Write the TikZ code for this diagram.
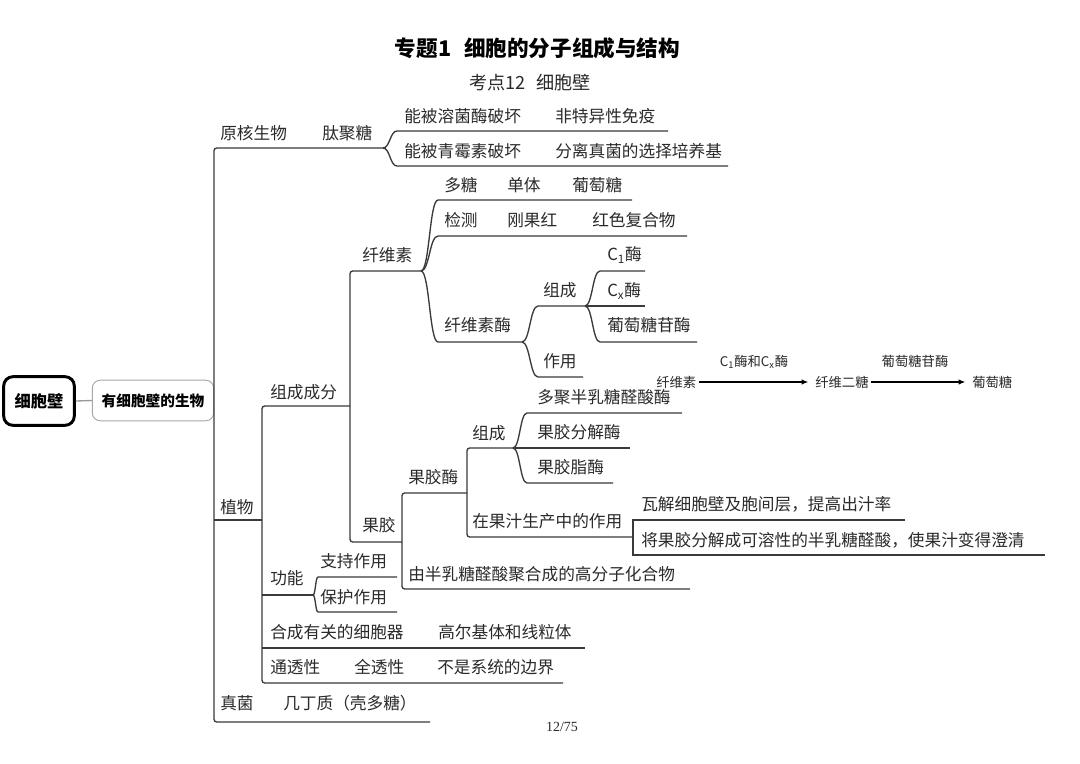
\documentclass[tikz,border=0pt]{standalone}
\usepackage{fontspec}
\setmainfont{Noto Sans CJK SC}
\newfontfamily\serifnum{Liberation Serif}
\usetikzlibrary{arrows.meta,calc}
\definecolor{lncol}{HTML}{3A3A3A}
\definecolor{txcol}{HTML}{2A2A2A}
\tikzset{
 ln/.style={draw=lncol, line width=1pt},
 tx/.style={anchor=west, inner sep=0pt, font=\fontsize{12.5}{14}\selectfont, text=txcol},
 eq/.style={anchor=west, inner sep=0pt, font=\fontsize{10}{12}\selectfont, text=txcol},
 eqlab/.style={inner sep=0pt, font=\fontsize{10}{12}\selectfont, text=txcol},
 ar/.style={draw=black, line width=0.8pt, -{Latex[length=5pt,width=4pt]}, shorten <=1.5pt, shorten >=5pt},
}
\newcommand\brc[3]{\path ($(#1)!.5!(#2)$) coordinate (mtmp);
  \draw[ln] (#1) .. controls (mtmp |- #1) and (mtmp |- #2) .. (#2) -- (#3);}
\begin{document}
\begin{tikzpicture}[x=0.75pt,y=-0.75pt]
\path[use as bounding box, fill=white] (0,0) rectangle (1080,763);

% titles
\node[inner sep=0pt, font=\fontsize{16.2}{19}\selectfont\bfseries] (title) at (537.5,48) {专题1\hspace{0.6em}细胞的分子组成与结构};
\node[inner sep=0pt, font=\fontsize{13.6}{16}\selectfont, text=txcol] (sub) at (530,83) {考点12\hspace{0.6em}细胞壁};
\node[inner sep=0pt, font=\serifnum\fontsize{10.5}{12}\selectfont, text=txcol] (pg) at (562,727) {12/75};

% root boxes
\node[draw=black, line width=2.2pt, rounded corners=7pt, minimum width=53pt, minimum height=36.5pt, inner sep=0pt, font=\fontsize{12.2}{14}\selectfont\bfseries] (root) at (39,401) {细胞壁};
\node[draw=gray!70, line width=0.7pt, rounded corners=6pt, minimum width=91pt, minimum height=30.5pt, inner sep=0pt, font=\fontsize{11}{13}\selectfont\bfseries] (org) at (153,400.5) {有细胞壁的生物};
\draw[draw=gray!80, line width=1pt] (root.east) -- (org.west);

% ---------- coordinates ----------
\coordinate (pk) at (383,148);
\coordinate (tk) at (214,148);
\coordinate (tb) at (214,722);
\coordinate (fe) at (430,722);
\coordinate (ly1s) at (397,131); \coordinate (ly1e) at (668,131);
\coordinate (ly2s) at (397,166); \coordinate (ly2e) at (728,166);
\coordinate (zw) at (214,520); \coordinate (zwb) at (262,520);
\coordinate (cc) at (350,406); \coordinate (st) at (262,406);
\coordinate (sb) at (262,683); \coordinate (tte) at (563,683);
\coordinate (gn) at (313,595); \coordinate (hc) at (585,648);
\coordinate (xw) at (421,271); \coordinate (xwt) at (350,271);
\coordinate (gjb) at (350,542); \coordinate (gj) at (402,542);
\coordinate (dt) at (438,200); \coordinate (dte) at (632,200);
\coordinate (jc) at (438,236); \coordinate (jce) at (687,236);
\coordinate (xm) at (438,342); \coordinate (xmP) at (522,342);
\coordinate (zc) at (538,306); \coordinate (zcP) at (585,306);
\coordinate (zy) at (538,377); \coordinate (zye) at (583,377);
\coordinate (c1) at (600,271); \coordinate (c1e) at (645,271);
\coordinate (cxe) at (645,306);
\coordinate (pt) at (600,342); \coordinate (pte) at (697,342);
\coordinate (gjm) at (467,493); \coordinate (gjv) at (402,493);
\coordinate (gjvb) at (402,589); \coordinate (yb) at (690,589);
\coordinate (zc2P) at (513,448); \coordinate (gv1) at (467,448);
\coordinate (gv2) at (467,537); \coordinate (zyP) at (633,537);
\coordinate (dj) at (527,413); \coordinate (dje) at (682,413);
\coordinate (fje) at (630,448);
\coordinate (zz) at (527,483); \coordinate (zze) at (613,483);
\coordinate (wj) at (633,520); \coordinate (wje) at (905,520);
\coordinate (jg) at (633,555); \coordinate (jge) at (1045,555);
\coordinate (zcz) at (318,577); \coordinate (zcze) at (397,577);
\coordinate (bh) at (318,612); \coordinate (bhe) at (397,612);

% ---------- lines ----------
\draw[ln, rounded corners=2pt] (pk) -- (tk) -- (tb) -- (fe);
\brc{pk}{ly1s}{ly1e}
\brc{pk}{ly2s}{ly2e}
\draw[ln] (zw) -- (zwb);
\draw[ln, rounded corners=2pt] (cc) -- (st) -- (sb) -- (tte);
\draw[ln] (zwb |- gn) -- (gn);
\draw[ln] (zwb |- hc) -- (hc);
\draw[ln, rounded corners=2pt] (xw) -- (xwt) -- (gjb) -- (gj);
\brc{xw}{dt}{dte}
\brc{xw}{jc}{jce}
\brc{xw}{xm}{xmP}
\brc{xmP}{zc}{zcP}
\brc{xmP}{zy}{zye}
\brc{zcP}{c1}{c1e}
\draw[ln] (zcP) -- (cxe);
\brc{zcP}{pt}{pte}
\draw[ln, rounded corners=2pt] (gjm) -- (gjv) -- (gjvb) -- (yb);
\draw[ln, rounded corners=2pt] (zc2P) -- (gv1) -- (gv2) -- (zyP);
\brc{zc2P}{dj}{dje}
\draw[ln] (zc2P) -- (fje);
\brc{zc2P}{zz}{zze}
\draw[ln] (wje) -- (wj) -- (jg) -- (jge);
\brc{gn}{zcz}{zcze}
\brc{gn}{bh}{bhe}

% ---------- texts ----------
\node[tx] (t1) at (220,133) {原核生物};
\node[tx] (t2) at (322,133) {肽聚糖};
\node[tx] (t3) at (404,116) {能被溶菌酶破坏};
\node[tx] (t4) at (555,116) {非特异性免疫};
\node[tx] (t5) at (404,151) {能被青霉素破坏};
\node[tx] (t6) at (555,151) {分离真菌的选择培养基};
\node[tx] (t7) at (220,507) {植物};
\node[tx] (t8) at (270,392) {组成成分};
\node[tx] (t9) at (362,255) {纤维素};
\node[tx] (t10) at (444,185) {多糖};
\node[tx] (t11) at (507,185) {单体};
\node[tx] (t12) at (572,185) {葡萄糖};
\node[tx] (t13) at (444,220) {检测};
\node[tx] (t14) at (507,220) {刚果红};
\node[tx] (t15) at (592,220) {红色复合物};
\node[tx] (t16) at (444,325) {纤维素酶};
\node[tx] (t17) at (543,290) {组成};
\node[tx] (t18) at (543,361) {作用};
\node[tx] (t19) at (607,255) {C\textsubscript{1}酶};
\node[tx] (t20) at (607,291) {C\textsubscript{x}酶};
\node[tx] (t21) at (607,325) {葡萄糖苷酶};
\node[tx] (t22) at (362,525) {果胶};
\node[tx] (t23) at (408,477) {果胶酶};
\node[tx] (t24) at (408,574) {由半乳糖醛酸聚合成的高分子化合物};
\node[tx] (t25) at (472,433) {组成};
\node[tx] (t26) at (472,521) {在果汁生产中的作用};
\node[tx] (t27) at (537,397) {多聚半乳糖醛酸酶};
\node[tx] (t28) at (537,432) {果胶分解酶};
\node[tx] (t29) at (537,467) {果胶脂酶};
\node[tx] (t30) at (641,504) {瓦解细胞壁及胞间层，提高出汁率};
\node[tx] (t31) at (641,540) {将果胶分解成可溶性的半乳糖醛酸，使果汁变得澄清};
\node[tx] (t32) at (270,578) {功能};
\node[tx] (t33) at (320,561) {支持作用};
\node[tx] (t34) at (320,597) {保护作用};
\node[tx] (t35) at (270,632) {合成有关的细胞器};
\node[tx] (t36) at (438,632) {高尔基体和线粒体};
\node[tx] (t37) at (270,667) {通透性};
\node[tx] (t38) at (354,667) {全透性};
\node[tx] (t39) at (437,667) {不是系统的边界};
\node[tx] (t40) at (220,703) {真菌};
\node[tx] (t41) at (283,703) {几丁质（壳多糖）};

% ---------- equation ----------
\node[eq] (e1) at (656,382) {纤维素};
\node[eq] (e2) at (815,382) {纤维二糖};
\node[eq] (e3) at (972,382) {葡萄糖};
\draw[ar] (e1.east) -- (e2.west);
\draw[ar] (e2.east) -- (e3.west);
\node[eqlab] (l1) at (754,362) {C\textsubscript{1}酶和C\textsubscript{x}酶};
\node[eqlab] (l2) at (915,361) {葡萄糖苷酶};
\end{tikzpicture}
\end{document}
